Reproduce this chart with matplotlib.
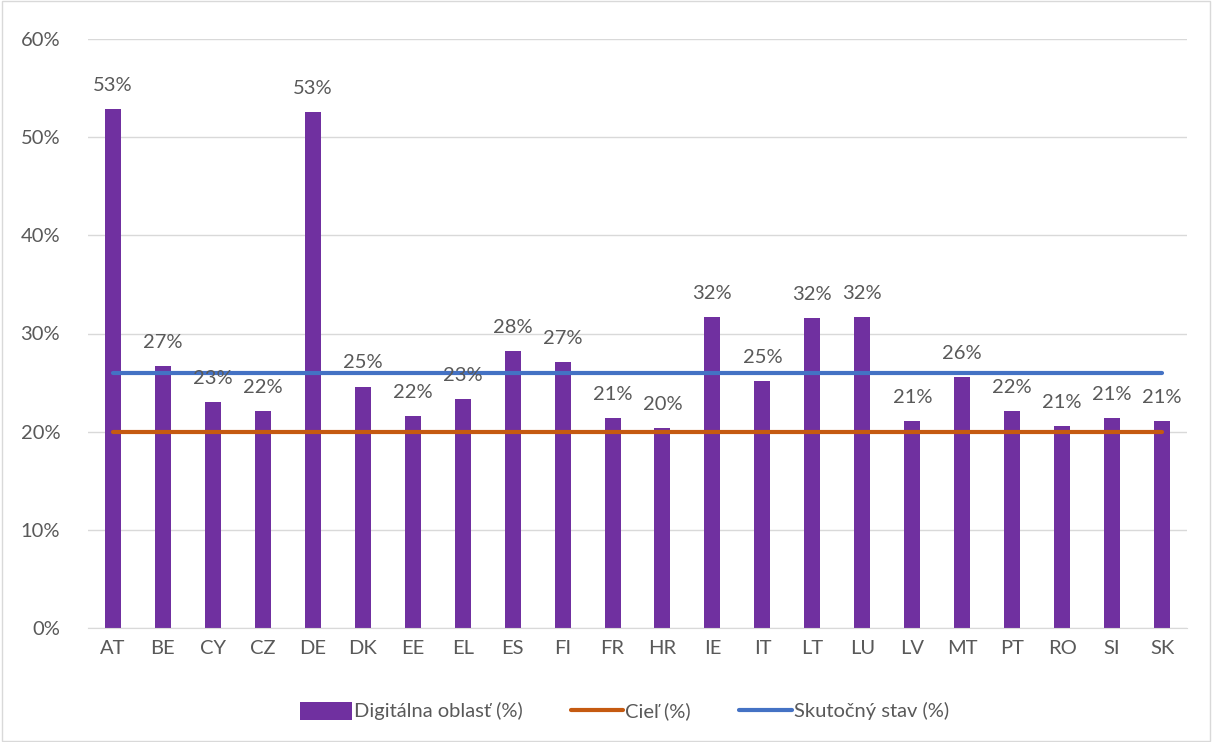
import matplotlib
matplotlib.use("Agg")
import matplotlib.pyplot as plt
from matplotlib.ticker import PercentFormatter

countries = ["AT", "BE", "CY", "CZ", "DE", "DK", "EE", "EL", "ES", "FI", "FR",
             "HR", "IE", "IT", "LT", "LU", "LV", "MT", "PT", "RO", "SI", "SK"]
digital = [52.9, 26.7, 23.0, 22.1, 52.6, 24.6, 21.6, 23.3, 28.2, 27.1, 21.4,
           20.4, 31.7, 25.2, 31.6, 31.7, 21.1, 25.6, 22.1, 20.6, 21.4, 21.1]
target = [20.0] * len(countries)
actual = [26.0] * len(countries)

PURPLE, ORANGE, BLUE = "#7030A0", "#C55A11", "#4472C4"
TXT = "#595959"
plt.rcParams["font.family"] = ["Lato", "DejaVu Sans"]

fig = plt.figure(figsize=(12.12, 7.42), dpi=100)
ax = fig.add_axes([88 / 1212, 1 - 628 / 742, (1187 - 88) / 1212, (628 - 39) / 742])

x = range(len(countries))
bars = ax.bar(x, digital, width=0.32, color=PURPLE, label="Digitálna oblasť (%)", zorder=2)
l1, = ax.plot(x, target, color=ORANGE, lw=3, label="Cieľ (%)", zorder=3, solid_capstyle="round")
l2, = ax.plot(x, actual, color=BLUE, lw=3, label="Skutočný stav (%)", zorder=3, solid_capstyle="round")

for xi, v in zip(x, digital):
    ax.annotate(f"{round(v):d}%", (xi, v), xytext=(0, 17), textcoords="offset points",
                ha="center", va="center", fontsize=14.5, color=TXT, zorder=4)

ax.set_xlim(-0.5, len(countries) - 0.5)
ax.set_ylim(0, 60)
ax.set_yticks(range(0, 61, 10))
ax.yaxis.set_major_formatter(PercentFormatter(decimals=0))
ax.set_xticks(list(x))
ax.set_xticklabels(countries)
ax.tick_params(axis="both", length=0, labelsize=14.5, labelcolor=TXT)
ax.tick_params(axis="x", pad=9)
ax.tick_params(axis="y", pad=20)
ax.grid(axis="y", color="#D9D9D9", lw=1, zorder=0)
for s in ["top", "right", "left"]:
    ax.spines[s].set_visible(False)
ax.spines["bottom"].set_color("#D9D9D9")

leg = fig.legend([bars, l1, l2], [bars.get_label(), l1.get_label(), l2.get_label()],
                 loc="center", bbox_to_anchor=(0.515, 1 - 711 / 742), ncol=3, frameon=False,
                 fontsize=14.5, handlelength=2.6, handleheight=1.0, columnspacing=2.4,
                 handletextpad=0.1)
for t in leg.get_texts():
    t.set_color(TXT)

fig.patches.append(plt.Rectangle((0.002, 0.002), 0.996, 0.996, transform=fig.transFigure,
                                 fill=False, edgecolor="#D9D9D9", lw=1))
fig.savefig("out.png", dpi=100)
